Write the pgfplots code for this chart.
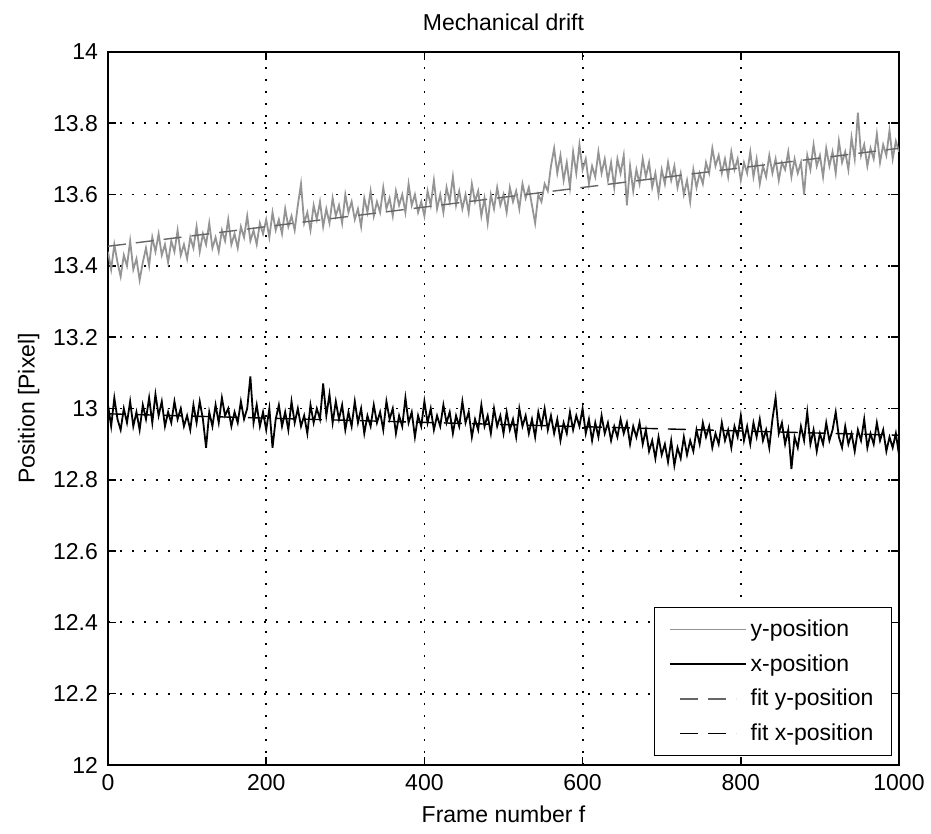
\documentclass[border=0pt]{standalone}
\usepackage{fontspec}
\setmainfont{Liberation Sans}
\usepackage{pgfplots}
\usepackage{pgfplotstable}
\pgfplotsset{compat=1.18}
\pgfplotsset{shortleg/.style={legend image code/.code={\draw[##1] (5pt,0pt) -- (33pt,0pt);}}}
\pgfplotstableread{
f y
0 13.44
4 13.39
8 13.46
12 13.41
16 13.37
20 13.43
24 13.40
28 13.47
32 13.39
36 13.42
40 13.36
44 13.41
48 13.45
52 13.40
56 13.48
60 13.44
64 13.49
68 13.43
72 13.46
76 13.41
80 13.47
84 13.44
88 13.50
92 13.43
96 13.46
100 13.42
104 13.48
108 13.45
112 13.51
116 13.44
120 13.49
124 13.46
128 13.52
132 13.45
136 13.48
140 13.44
144 13.50
148 13.47
152 13.53
156 13.46
160 13.49
164 13.45
168 13.51
172 13.48
176 13.54
180 13.47
184 13.50
188 13.46
192 13.52
196 13.49
200 13.53
204 13.48
208 13.55
212 13.50
216 13.53
220 13.49
224 13.56
228 13.51
232 13.54
236 13.50
240 13.57
244 13.63
248 13.52
252 13.55
256 13.50
260 13.57
264 13.53
268 13.58
272 13.51
276 13.56
280 13.52
284 13.59
288 13.54
292 13.57
296 13.52
300 13.60
304 13.55
308 13.58
312 13.53
316 13.56
320 13.51
324 13.59
328 13.55
332 13.61
336 13.54
340 13.58
344 13.55
348 13.62
352 13.56
356 13.59
360 13.54
364 13.61
368 13.57
372 13.60
376 13.55
380 13.63
384 13.57
388 13.60
392 13.55
396 13.58
400 13.54
404 13.61
408 13.57
412 13.64
416 13.56
420 13.60
424 13.55
428 13.62
432 13.58
436 13.65
440 13.57
444 13.61
448 13.56
452 13.60
456 13.55
460 13.63
464 13.58
468 13.61
472 13.54
476 13.59
480 13.52
484 13.60
488 13.56
492 13.62
496 13.57
500 13.60
504 13.55
508 13.62
512 13.58
516 13.61
520 13.56
524 13.63
528 13.59
532 13.62
536 13.57
540 13.52
544 13.60
548 13.58
552 13.63
556 13.61
560 13.68
564 13.73
568 13.66
572 13.71
576 13.64
580 13.69
584 13.62
588 13.72
592 13.66
596 13.74
600 13.67
604 13.70
608 13.63
612 13.68
616 13.65
620 13.72
624 13.66
628 13.70
632 13.64
636 13.69
640 13.62
644 13.70
648 13.66
652 13.71
656 13.57
660 13.68
664 13.61
668 13.67
672 13.63
676 13.70
680 13.65
684 13.69
688 13.62
692 13.66
696 13.60
700 13.67
704 13.63
708 13.69
712 13.64
716 13.68
720 13.62
724 13.66
728 13.60
732 13.64
736 13.58
740 13.67
744 13.62
748 13.66
752 13.63
756 13.69
760 13.66
764 13.73
768 13.68
772 13.71
776 13.66
780 13.70
784 13.65
788 13.72
792 13.67
796 13.70
800 13.64
804 13.69
808 13.66
812 13.72
816 13.65
820 13.70
824 13.63
828 13.68
832 13.65
836 13.71
840 13.66
844 13.70
848 13.64
852 13.69
856 13.67
860 13.72
864 13.65
868 13.70
872 13.66
876 13.69
880 13.60
884 13.71
888 13.67
892 13.74
896 13.68
900 13.71
904 13.65
908 13.73
912 13.68
916 13.72
920 13.66
924 13.75
928 13.69
932 13.72
936 13.67
940 13.76
944 13.70
948 13.83
952 13.71
956 13.74
960 13.68
964 13.73
968 13.70
972 13.77
976 13.69
980 13.74
984 13.71
988 13.78
992 13.70
996 13.75
1000 13.72
}\ypos
\pgfplotstableread{
f x
0 13.01
4 12.95
8 13.03
12 12.97
16 12.94
20 13.00
24 12.96
28 13.02
32 12.95
36 12.99
40 12.94
44 13.01
48 12.97
52 13.03
56 12.96
60 13.04
64 12.98
68 13.02
72 12.95
76 12.99
80 12.96
84 13.02
88 12.97
92 13.00
96 12.95
100 12.98
104 12.94
108 13.01
112 12.96
116 13.02
120 12.97
124 12.89
128 12.99
132 12.95
136 13.01
140 12.96
144 13.03
148 12.98
152 13.00
156 12.95
160 12.99
164 12.96
168 13.02
172 12.97
176 13.00
180 13.09
184 12.96
188 13.01
192 12.95
196 12.99
200 12.94
204 13.00
208 12.89
212 12.97
216 13.01
220 12.95
224 12.99
228 12.94
232 13.02
236 12.96
240 13.00
244 12.95
248 12.98
252 12.93
256 13.01
260 12.96
264 13.00
268 12.97
272 13.07
276 12.98
280 13.04
284 12.96
288 13.02
292 12.97
296 13.01
300 12.94
304 12.99
308 12.95
312 13.02
316 12.96
320 13.00
324 12.93
328 12.98
332 12.95
336 13.01
340 12.96
344 12.99
348 12.94
352 13.02
356 12.97
360 13.00
364 12.93
368 12.98
372 12.95
376 13.03
380 12.96
384 12.99
388 12.92
392 12.98
396 12.95
400 13.02
404 12.96
408 13.00
412 12.94
416 12.98
420 12.95
424 13.01
428 12.96
432 12.99
436 12.93
440 12.98
444 12.95
448 13.02
452 12.96
456 12.99
460 12.92
464 12.97
468 12.94
472 13.01
476 12.95
480 12.98
484 12.93
488 13.00
492 12.95
496 12.98
500 12.93
504 12.99
508 12.94
512 12.97
516 12.92
520 13.00
524 12.95
528 12.98
532 12.93
536 12.97
540 12.92
544 12.99
548 12.95
552 13.00
556 12.94
560 12.98
564 12.93
568 12.97
572 12.91
576 12.96
580 12.93
584 12.99
588 12.94
592 12.98
596 12.95
600 13.00
604 12.93
608 12.97
612 12.91
616 12.96
620 12.92
624 12.98
628 12.93
632 12.96
636 12.91
640 12.95
644 12.92
648 12.97
652 12.93
656 12.96
660 12.90
664 12.95
668 12.92
672 12.96
676 12.90
680 12.94
684 12.88
688 12.91
692 12.86
696 12.92
700 12.87
704 12.90
708 12.85
712 12.91
716 12.84
720 12.89
724 12.86
728 12.92
732 12.87
736 12.91
740 12.88
744 12.94
748 12.90
752 12.96
756 12.92
760 12.95
764 12.89
768 12.93
772 12.90
776 12.96
780 12.91
784 12.94
788 12.89
792 12.95
796 12.92
800 12.98
804 12.91
808 12.95
812 12.90
816 12.96
820 12.92
824 12.97
828 12.91
832 12.94
836 12.89
840 12.97
844 13.03
848 12.93
852 12.96
856 12.90
860 12.94
864 12.83
868 12.92
872 12.89
876 12.95
880 12.91
884 12.99
888 12.90
892 12.94
896 12.88
900 12.93
904 12.90
908 12.96
912 12.91
916 12.94
920 12.99
924 12.92
928 12.89
932 12.95
936 12.90
940 12.93
944 12.88
948 12.94
952 12.91
956 12.97
960 12.89
964 12.93
968 12.90
972 12.96
976 12.91
980 12.94
984 12.88
988 12.92
992 12.89
996 12.93
1000 12.87
}\xpos
\definecolor{datagray}{gray}{0.58}
\definecolor{fitgray}{gray}{0.40}
\begin{document}
\begin{tikzpicture}
\useasboundingbox (-54pt,-34.5pt) rectangle (411.5pt,382.5pt);
\begin{axis}[
  at={(0,0)}, anchor=south west,
  scale only axis, width=395.5pt, height=356.5pt,
  xmin=0, xmax=1000, ymin=12, ymax=14,
  xtick={0,200,...,1000}, ytick={12,12.2,...,14.01},
  yticklabels={12,12.2,12.4,12.6,12.8,13,13.2,13.4,13.6,13.8,14},
  /pgf/number format/1000 sep={},
  tick align=inside, major tick length=4pt,
  tick style={black, line width=0.8pt},
  xtick pos=both, ytick pos=both,
  axis line style={line width=1pt},
  grid=major,
  major grid style={black, line width=0.9pt, dash pattern=on 0.9pt off 5.1pt},
  font=\fontsize{11.5}{13}\selectfont,
  /pgf/number format/assume math mode=true,
  tick label style={font=\fontsize{11.5}{13}\selectfont},
  yticklabel style={xshift=-1.5pt},
  xticklabel style={yshift=-1pt},
  title={Mechanical drift},
  title style={yshift=1pt},
  xlabel={Frame number f},
  xlabel style={yshift=-1pt},
  ylabel={Position [Pixel]},
  legend style={at={(1,0)}, anchor=south east, xshift=-3.5pt, yshift=4.5pt,
    draw=black, line width=0.6pt, font=\fontsize{11.5}{13}\selectfont,
    row sep=3.5pt, inner xsep=7pt, inner ysep=4pt},
  legend cell align=left,
  legend image code/.code={\draw[#1] (0pt,0pt) -- (38pt,0pt);},
]
\addplot[datagray, line width=0.9pt] table[x=f, y=y] {\ypos};
\addlegendentry{y-position}
\addplot[black, line width=0.9pt] table[x=f, y=x] {\xpos};
\addlegendentry{x-position}
\addplot[fitgray, line width=0.7pt, dash pattern=on 9pt off 5pt, shortleg] coordinates {(0,13.455) (1000,13.730)};
\addlegendentry{fit y-position}
\addplot[black, line width=0.7pt, dash pattern=on 9pt off 5pt, shortleg] coordinates {(0,12.985) (1000,12.925)};
\addlegendentry{fit x-position}
\end{axis}
\end{tikzpicture}
\end{document}
